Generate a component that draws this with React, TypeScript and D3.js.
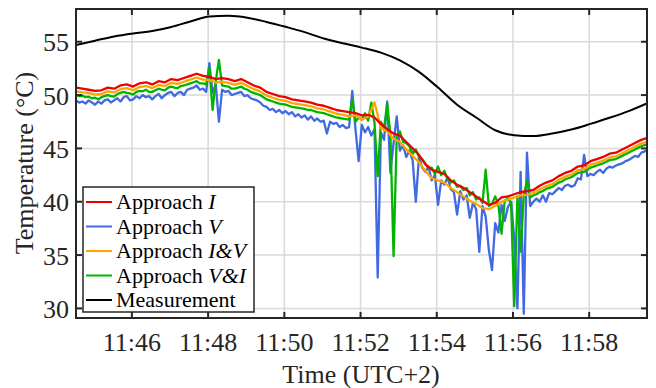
import React from "react";
import * as d3 from "d3";

const W = 656;
const H = 388;
const plot = { left: 76, right: 647, top: 9, bottom: 318 };

const startTime = new Date(2024, 0, 1, 11, 44, 32);
const endTime = new Date(2024, 0, 1, 11, 59, 31);
const yDomain = [29.1, 58.07];
const yTicks = [30, 35, 40, 45, 50, 55];
const xTickMinutes = [46, 48, 50, 52, 54, 56, 58];

// Measurement, one value every 30 s
const measurement = [
  54.69, 55.1, 55.5, 55.78, 56.0, 56.38, 56.9, 57.36, 57.43, 57.25,
  56.86, 56.4, 55.9, 55.3, 54.85, 54.45, 53.98, 53.25, 52.17, 50.7,
  49.1, 47.9, 46.7, 46.24, 46.16, 46.4, 46.77, 47.3, 47.87, 48.5, 49.25,
];

// Approach I, one value every 10 s
const approachI = [
  50.7, 50.6, 50.5, 50.4, 50.45, 50.7, 50.6, 50.9, 51.0, 50.8,
  51.1, 51.2, 51.0, 51.3, 51.2, 51.5, 51.4, 51.6, 51.8, 52.0,
  51.8, 51.7, 51.5, 51.6, 51.5, 51.3, 51.5, 51.2, 50.9, 50.7,
  50.3, 50.1, 49.9, 49.8, 49.6, 49.5, 49.4, 49.3, 49.1, 49.0,
  48.8, 48.6, 48.5, 48.4, 48.3, 48.1, 48.15, 47.9, 47.3, 46.8,
  46.4, 46.2, 45.6, 45.0, 44.4, 43.5, 43.0, 42.8, 42.6, 42.0,
  41.6, 41.3, 40.9, 40.5, 40.1, 39.7, 39.9, 40.4, 40.5, 40.7,
  40.9, 41.0, 41.1, 41.5, 41.8, 42.0, 42.4, 42.7, 42.9, 43.3,
  43.4, 43.8, 44.0, 44.2, 44.5, 44.6, 44.9, 45.2, 45.5, 45.8, 46.0,
];

// Approach I&V, one value every 10 s
const approachIV = [
  50.35, 50.25, 50.2, 50.05, 50.1, 50.35, 50.25, 50.55, 50.65, 50.45,
  50.75, 50.85, 50.65, 50.95, 50.85, 51.15, 51.05, 51.25, 51.45, 51.65,
  51.45, 51.4, 51.2, 51.25, 51.15, 50.95, 51.15, 50.85, 50.55, 50.35,
  49.95, 49.75, 49.55, 49.45, 49.25, 49.15, 49.05, 48.95, 48.75, 48.65,
  48.45, 48.25, 48.15, 48.0, 48.1, 47.7, 48.0, 49.3, 46.9, 46.6,
  45.9, 45.6, 44.9, 44.3, 43.7, 42.9, 42.2, 42.0, 41.8, 41.3,
  40.9, 40.5, 40.1, 39.8, 39.4, 39.3, 39.6, 40.0, 40.2, 40.4,
  40.6, 40.65, 40.8, 41.15, 41.45, 41.65, 42.05, 42.35, 42.55, 42.95,
  43.05, 43.45, 43.65, 43.85, 44.15, 44.25, 44.55, 44.85, 45.15, 45.45, 45.65,
];

// Approach V, one value every 5 s
const approachV = [
  49.5, 49.3, 49.4, 49.2, 49.5, 49.3, 49.1, 49.4, 49.2, 49.5,
  49.6, 49.3, 49.5, 49.7, 49.4, 49.8, 49.9, 49.5, 49.6, 49.9,
  49.7, 50.0, 49.8, 49.9, 49.6, 49.9, 50.1, 49.7, 50.0, 50.2,
  50.3, 49.9, 50.2, 50.3, 50.0, 50.5, 50.6, 50.7, 50.9, 50.5,
  50.6, 50.3, 53.0, 50.2, 51.0, 47.5, 50.5, 50.3, 50.4, 50.0,
  50.1, 50.2, 50.3, 49.9, 50.0, 49.7, 49.6, 49.5, 49.3, 49.0,
  48.9, 48.6, 48.7, 48.4, 48.6, 48.3, 48.5, 48.2, 48.4, 48.0,
  48.2, 47.9, 48.1, 47.7, 48.0, 47.6, 47.8, 47.5, 47.6, 46.4,
  47.5, 47.3, 47.4, 47.0, 47.2, 46.9, 47.0, 50.4, 46.8, 43.8,
  47.2, 46.5, 47.0, 46.2, 46.8, 32.9, 46.5, 45.8, 49.4, 42.7,
  45.5, 48.0, 44.8, 45.3, 44.2, 44.8, 43.9, 40.0, 44.2, 43.2,
  42.8, 43.3, 42.0, 42.5, 39.7, 42.0, 41.6, 42.3, 41.2, 40.9,
  38.8, 41.0, 40.2, 40.6, 38.5, 39.9, 39.3, 35.3, 39.6, 38.6,
  35.5, 33.6, 38.0, 37.1, 39.7, 38.2, 39.5, 40.0, 36.5, 30.0,
  42.8, 29.5, 44.6, 39.6, 40.0, 40.3, 40.0, 40.6, 40.0, 40.8,
  40.7, 41.0, 41.3, 41.1, 41.5, 41.6, 41.4, 41.55, 42.2, 42.1,
  44.4, 42.4, 42.6, 42.5, 42.8, 43.0, 42.7, 43.1, 43.3, 43.2,
  43.4, 43.5, 43.6, 43.8, 43.9, 44.1, 44.3, 44.2, 44.6, 44.7,
  44.9,
];

// Approach V&I, one value every 5 s
const approachVI = [
  50.0, 49.9, 49.95, 49.8, 49.85, 49.7, 49.75, 49.6, 49.8, 49.9,
  50.0, 49.9, 49.85, 50.1, 50.2, 50.3, 50.2, 50.15, 50.05, 50.3,
  50.4, 50.35, 50.5, 50.3, 50.3, 50.45, 50.6, 50.5, 50.45, 50.7,
  50.8, 50.7, 50.65, 50.85, 50.9, 51.0, 51.1, 51.2, 51.3, 51.1,
  51.1, 51.0, 52.6, 48.6, 51.3, 53.3, 50.9, 50.85, 50.8, 50.6,
  50.6, 50.7, 50.8, 50.6, 50.5, 50.3, 50.2, 50.1, 50.0, 49.8,
  49.6, 49.5, 49.4, 49.3, 49.2, 49.15, 49.1, 49.0, 48.9, 48.85,
  48.8, 48.75, 48.7, 48.6, 48.6, 48.5, 48.4, 48.35, 48.3, 48.2,
  48.1, 48.0, 47.9, 47.85, 47.8, 47.75, 47.7, 49.6, 47.5, 47.9,
  47.7, 48.3, 47.6, 49.3, 47.4, 42.4, 47.5, 46.9, 49.2, 46.3,
  34.9, 46.2, 46.6, 45.6, 45.5, 45.2, 44.5, 44.9, 44.2, 44.0,
  43.6, 43.1, 43.2, 42.6, 43.3, 42.5, 42.9, 42.1, 41.8, 42.0,
  41.4, 41.5, 41.1, 41.3, 40.6, 40.9, 40.2, 40.4, 39.9, 43.0,
  39.6, 39.8, 40.5, 39.7, 37.0, 40.1, 40.3, 39.9, 30.2, 40.5,
  35.3, 40.6, 42.0, 40.4, 40.6, 40.7, 40.9, 41.0, 41.2, 41.3,
  41.4, 41.6, 41.8, 41.9, 42.1, 42.2, 42.3, 42.5, 42.7, 42.75,
  42.8, 43.0, 43.2, 43.3, 43.4, 43.5, 43.6, 43.75, 43.9, 43.95,
  44.0, 44.15, 44.3, 44.45, 44.6, 44.75, 44.9, 45.05, 45.2, 45.3,
  45.4,
];

const legendNames = [
  { pre: "Approach ", it: "I", color: "#ee0000" },
  { pre: "Approach ", it: "V", color: "#4169e1" },
  { pre: "Approach ", it: "I&V", color: "#ffa500" },
  { pre: "Approach ", it: "V&I", color: "#00b400" },
  { pre: "Measurement", it: "", color: "#000000" },
];

const FONT = "'Liberation Serif', 'Times New Roman', serif";

function toPoints(values: number[], stepSec: number) {
  return values.map((v, i) => ({ t: new Date(startTime.getTime() + i * stepSec * 1000), v }));
}

export default function App() {
  const x = d3.scaleTime().domain([startTime, endTime]).range([plot.left, plot.right]);
  const y = d3.scaleLinear().domain(yDomain).range([plot.bottom, plot.top]);
  const line = d3
    .line<{ t: Date; v: number }>()
    .x((d) => x(d.t))
    .y((d) => y(d.v));
  const smoothLine = d3
    .line<{ t: Date; v: number }>()
    .x((d) => x(d.t))
    .y((d) => y(d.v))
    .curve(d3.curveMonotoneX);

  const xTicks = xTickMinutes.map((m) => new Date(2024, 0, 1, 11, m, 0));
  const fmt = d3.timeFormat("%H:%M");

  const series = [
    { data: toPoints(approachV, 5), color: "#4169e1", smooth: false },
    { data: toPoints(approachVI, 5), color: "#00b400", smooth: false },
    { data: toPoints(approachIV, 10), color: "#ffa500", smooth: false },
    { data: toPoints(approachI, 10), color: "#ee0000", smooth: false },
    { data: toPoints(measurement, 30), color: "#000000", smooth: true },
  ];

  const frame = "#262626";
  const grid = "#d9d9d9";
  const tickLen = 6;

  const lg = { x: 83, y: 187, w: 171, h: 125, row: 24.5 };

  return (
    <svg
      width={W}
      height={H}
      style={{ position: "absolute", left: 0, top: 0, background: "#fff" }}
      fontFamily={FONT}
    >
      <defs>
        <clipPath id="plotClip">
          <rect x={plot.left} y={plot.top} width={plot.right - plot.left} height={plot.bottom - plot.top} />
        </clipPath>
      </defs>
      <rect x={0} y={0} width={W} height={H} fill="#fff" />
      {xTicks.map((t, i) => (
        <line key={"gx" + i} x1={x(t)} x2={x(t)} y1={plot.top} y2={plot.bottom} stroke={grid} strokeWidth={1.5} />
      ))}
      {yTicks.map((v, i) => (
        <line key={"gy" + i} x1={plot.left} x2={plot.right} y1={y(v)} y2={y(v)} stroke={grid} strokeWidth={1.5} />
      ))}
      <g clipPath="url(#plotClip)">
        {series.map((s, i) => (
          <path
            key={i}
            d={(s.smooth ? smoothLine(s.data) : line(s.data)) || ""}
            fill="none"
            stroke={s.color}
            strokeWidth={s.smooth ? 2 : 2.3}
            strokeLinejoin="round"
          />
        ))}
      </g>
      {xTicks.map((t, i) => (
        <g key={"tx" + i}>
          <line x1={x(t)} x2={x(t)} y1={plot.bottom} y2={plot.bottom - tickLen} stroke={frame} strokeWidth={2} />
          <line x1={x(t)} x2={x(t)} y1={plot.top} y2={plot.top + tickLen} stroke={frame} strokeWidth={2} />
          <text x={x(t)} y={351} textAnchor="middle" fontSize={26} fill="#262626">
            {fmt(t)}
          </text>
        </g>
      ))}
      {yTicks.map((v, i) => (
        <g key={"ty" + i}>
          <line x1={plot.left} x2={plot.left + tickLen} y1={y(v)} y2={y(v)} stroke={frame} strokeWidth={2} />
          <line x1={plot.right} x2={plot.right - tickLen} y1={y(v)} y2={y(v)} stroke={frame} strokeWidth={2} />
          <text x={69} y={y(v) + 9.5} textAnchor="end" fontSize={26} fill="#262626">
            {v}
          </text>
        </g>
      ))}
      <rect
        x={plot.left}
        y={plot.top}
        width={plot.right - plot.left}
        height={plot.bottom - plot.top}
        fill="none"
        stroke={frame}
        strokeWidth={2}
      />
      <text x={361} y={383} textAnchor="middle" fontSize={26} fill="#262626">
        Time (UTC+2)
      </text>
      <text transform={`translate(33,163) rotate(-90)`} textAnchor="middle" fontSize={26} fill="#262626">
        Temperature (°C)
      </text>
      <rect x={lg.x} y={lg.y} width={lg.w} height={lg.h} fill="#fff" stroke={frame} strokeWidth={1.5} />
      {legendNames.map((l, i) => {
        const cy = lg.y + 15 + i * lg.row;
        return (
          <g key={"lg" + i}>
            <line x1={86} x2={112} y1={cy} y2={cy} stroke={l.color} strokeWidth={2} />
            <text x={116} y={cy + 7} fontSize={22} fill="#000">
              {l.pre}
              {l.it ? <tspan fontStyle="italic">{l.it}</tspan> : null}
            </text>
          </g>
        );
      })}
    </svg>
  );
}
